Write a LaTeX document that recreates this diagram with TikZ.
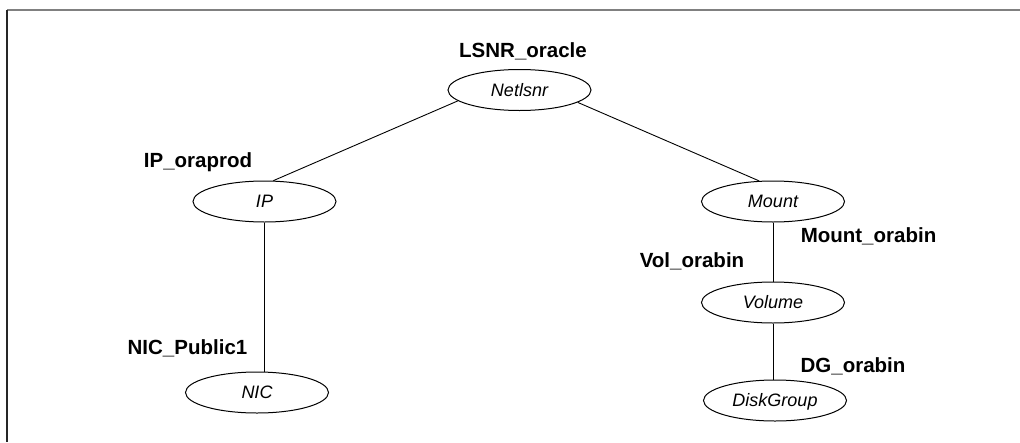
\documentclass[tikz,border=0pt]{standalone}
\usepackage{fontspec}
\setmainfont{Liberation Sans}
\usetikzlibrary{shapes.geometric}
\begin{document}
\begin{tikzpicture}[x=1pt,y=-1pt,
  res/.style={ellipse,draw,line width=1pt,minimum width=143pt,minimum height=41pt,inner sep=0pt,
    font=\fontsize{18}{21}\selectfont\itshape,text height=12.9pt,text depth=0pt},
  lbl/.style={anchor=base,inner sep=0pt,font=\fontsize{20.5}{24}\selectfont\bfseries},
  link/.style={line width=0.9pt}]
\useasboundingbox (0,0) rectangle (1020,442);
\draw[line width=2pt,black!50] (7,10) -- (1020,10);
\draw[line width=1.5pt,black!85] (7,10) -- (7,442);
% resources
\node[res] (net) at (519.5,90) {Netlsnr};
\node[res] (ip) at (264.5,201.5) {IP};
\node[res] (nic) at (257,392.5) {NIC};
\node[res] (mount) at (773,201.5) {Mount};
\node[res] (vol) at (773,302.5) {Volume};
\node[res] (dg) at (775,400.5) {DiskGroup};
% labels
\node[lbl] (lsnr) at (523,57) {LSNR\_oracle};
\node[lbl] (ipl) at (198,167.5) {IP\_oraprod};
\node[lbl] (nicl) at (187.5,354) {NIC\_Public1};
\node[lbl] (mountl) at (868.5,242.7) {Mount\_orabin};
\node[lbl] (voll) at (692,267.7) {Vol\_orabin};
\node[lbl] (dgl) at (853,372) {DG\_orabin};
% links
\draw[link] (net.190.6) -- (ip.67);
\draw[link] (net.348.4) -- (mount.124);
\draw[link] (ip.south) -- (ip.south |- nic.north);
\draw[link] (mount.south) -- (vol.north);
\draw[link] (vol.south) -- (vol.south |- dg.north);
\end{tikzpicture}
\end{document}
